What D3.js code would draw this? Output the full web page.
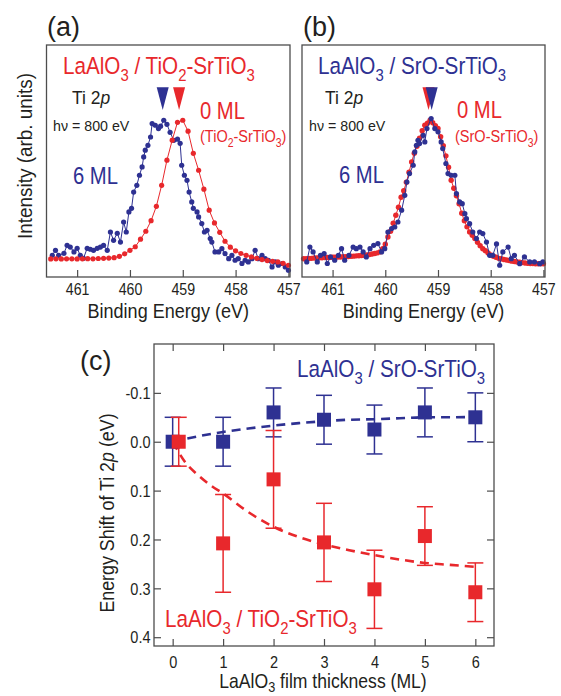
<!DOCTYPE html>
<html>
<head>
<meta charset="utf-8">
<script src="https://cdn.jsdelivr.net/npm/d3@7"></script>
<style>
  body { margin: 0; background: #fff; }
  svg { display: block; font-family: "Liberation Sans", Arial, sans-serif; }
</style>
</head>
<body>
<svg id="fig" width="561" height="696"></svg>
<script>
// ---- data: Ti 2p spectra, panel (a) LaAlO3 / TiO2-SrTiO3
var redA_E = [461.5,461.4,461.3,461.2,461.1,461.0,460.9,460.8,460.7,460.6,460.5,460.4,460.3,460.2,460.1,460.0,
  459.9,459.8,459.7,459.6,459.5,459.4,459.3,459.2,459.1,459.0,458.9,458.8,458.7,458.6,458.5,458.4,458.3,458.2,
  458.1,458.0,457.9,457.8,457.7,457.6,457.5,457.4,457.3,457.2,457.1,457.0];
var redA_I = [0.115,0.116,0.115,0.116,0.116,0.115,0.116,0.117,0.116,0.118,0.119,0.121,0.123,0.132,0.148,0.170,
  0.193,0.241,0.292,0.359,0.451,0.585,0.745,0.873,0.987,1.000,0.930,0.789,0.681,0.560,0.426,0.345,0.285,0.228,
  0.190,0.167,0.150,0.138,0.128,0.119,0.111,0.105,0.100,0.096,0.087,0.075];

var blueA_E = [461.47,461.41,461.35,461.25,461.19,461.13,461.06,461.00,460.94,460.88,460.81,460.75,460.69,460.62,
  460.56,460.50,460.43,460.37,460.31,460.24,460.18,460.12,460.07,460.02,459.97,459.93,459.87,459.82,459.77,459.74,
  459.71,459.66,459.61,459.58,459.52,459.46,459.42,459.36,459.30,459.24,459.17,459.10,459.05,459.02,458.97,458.92,
  458.88,458.83,458.80,458.73,458.70,458.64,458.59,458.54,458.48,458.45,458.39,458.32,458.26,458.20,458.13,458.07,
  458.01,457.95,457.88,457.82,457.76,457.69,457.63,457.57,457.50,457.44,457.38,457.31,457.25,457.19,457.12,457.06,457.00];
var blueA_I = [0.138,0.170,0.138,0.151,0.202,0.191,0.160,0.183,0.138,0.119,0.183,0.177,0.170,0.183,
  0.191,0.202,0.170,0.287,0.234,0.279,0.223,0.351,0.287,0.415,0.438,0.542,0.585,0.649,0.702,0.766,
  0.809,0.840,0.893,0.979,0.968,0.947,0.962,1.000,0.974,0.923,0.872,0.879,0.853,0.713,0.649,0.617,
  0.542,0.479,0.438,0.415,0.383,0.341,0.287,0.298,0.245,0.223,0.160,0.160,0.181,0.149,0.117,0.138,
  0.107,0.117,0.086,0.107,0.096,0.117,0.170,0.117,0.138,0.117,0.107,0.064,0.096,0.075,0.086,0.064,0.043];

// ---- panel (b) LaAlO3 / SrO-SrTiO3
var redB_E = [461.55,461.50,461.45,461.40,461.35,461.30,461.25,461.20,461.15,461.10,461.05,461.00,460.95,460.90,
  460.85,460.80,460.75,460.70,460.65,460.60,460.55,460.50,460.45,460.40,460.35,460.30,460.25,460.20,460.15,460.10,
  460.05,460.00,459.95,459.90,459.85,459.80,459.75,459.70,459.65,459.60,459.55,459.50,459.45,459.40,459.35,459.30,
  459.25,459.20,459.15,459.10,459.05,459.00,458.95,458.90,458.85,458.80,458.75,458.70,458.65,458.60,458.55,458.50,
  458.45,458.40,458.35,458.30,458.25,458.20,458.15,458.10,458.05,458.00,457.95,457.90,457.85,457.80,457.75,457.70,
  457.65,457.60,457.55,457.50,457.45,457.40,457.35,457.30,457.25,457.20,457.15,457.10,457.05,457.00];
var redB_I = [0.116,0.117,0.118,0.119,0.121,0.122,0.123,0.123,0.124,0.124,0.125,0.126,0.126,0.127,
  0.128,0.129,0.130,0.131,0.132,0.133,0.135,0.136,0.137,0.138,0.140,0.143,0.147,0.150,0.154,0.160,
  0.180,0.209,0.255,0.292,0.343,0.394,0.445,0.509,0.550,0.604,0.668,0.734,0.789,0.834,0.885,0.933,
  0.968,0.981,1.000,0.984,0.965,0.947,0.895,0.837,0.773,0.700,0.617,0.566,0.518,0.467,0.407,0.359,
  0.320,0.287,0.266,0.245,0.221,0.199,0.180,0.167,0.153,0.140,0.132,0.126,0.119,0.116,0.112,0.108,
  0.105,0.101,0.099,0.096,0.094,0.092,0.089,0.087,0.086,0.086,0.085,0.085,0.084,0.084];

var blueB_E = [461.49,461.43,461.37,461.29,461.23,461.16,461.10,461.04,460.96,460.89,460.83,460.77,460.69,460.61,
  460.55,460.48,460.42,460.36,460.29,460.22,460.14,460.07,460.01,459.95,459.88,459.82,459.76,459.69,459.63,459.59,
  459.54,459.47,459.44,459.41,459.38,459.35,459.28,459.25,459.21,459.13,459.06,459.00,458.94,458.91,458.85,458.81,
  458.75,458.68,458.65,458.59,458.54,458.49,458.46,458.40,458.34,458.27,458.21,458.15,458.08,458.02,457.96,457.89,
  457.83,457.77,457.67,457.61,457.55,457.45,457.36,457.26,457.17,457.07,457.01];
var blueB_I = [0.096,0.191,0.160,0.096,0.138,0.149,0.086,0.128,0.107,0.138,0.181,0.107,0.138,0.191,
  0.181,0.191,0.160,0.128,0.181,0.202,0.213,0.160,0.181,0.287,0.309,0.319,0.351,0.426,0.521,0.606,
  0.660,0.713,0.798,0.840,0.872,0.851,0.904,0.862,0.947,1.011,0.947,0.926,0.862,0.819,0.724,0.660,
  0.649,0.649,0.532,0.479,0.468,0.404,0.372,0.340,0.287,0.245,0.287,0.277,0.223,0.138,0.138,0.211,
  0.075,0.160,0.191,0.117,0.138,0.085,0.128,0.096,0.096,0.085,0.096];

// peak position markers (binding energy), [red, blue]
var markA_E = [459.07, 459.38];
var markB_E = [459.18, 459.12];
var markTop = 1.21, markTip = 1.065;   // in intensity units

var energyTicks = [461, 460, 459, 458, 457];

// ---- panel (c): energy shift vs LaAlO3 thickness
var thickTicks = [0, 1, 2, 3, 4, 5, 6];
var shiftTicks = [-0.1, 0.0, 0.1, 0.2, 0.3, 0.4];

var sroX   = [0, 1, 2, 3, 4, 5, 6];
var sroVal = [0.0, 0.0, -0.06, -0.045, -0.025, -0.06, -0.05];
var sroErr = [0.05, 0.05, 0.05, 0.05, 0.05, 0.05, 0.05];

var tioX   = [0.12, 1, 2, 3, 4, 5, 6];
var tioVal = [0.0, 0.208, 0.077, 0.206, 0.302, 0.193, 0.308];
var tioErr = [0.05, 0.10, 0.10, 0.08, 0.08, 0.06, 0.06];

// dashed guide curves
var sroFitX = [0, 0.5, 1, 1.5, 2, 2.5, 3, 3.5, 4, 4.5, 5, 5.5, 6];
var sroFitY = [0, -0.011, -0.02, -0.027, -0.033, -0.038, -0.042, -0.045, -0.046, -0.048, -0.05, -0.05, -0.051];
var tioFitX = [0, 0.25, 0.5, 0.75, 1, 1.5, 2, 2.5, 3, 3.5, 4, 4.5, 5, 5.5, 6];
var tioFitY = [0, 0.042, 0.068, 0.089, 0.106, 0.144, 0.174, 0.195, 0.21, 0.222, 0.232, 0.241, 0.248, 0.252, 0.256];

var RED = '#e8282c', BLUE = '#2e3192', INK = '#231f20', FRAME = '#4d4d4d';

var svg = d3.select('#fig');
svg.append('rect').attr('width', 561).attr('height', 696).attr('fill', '#fff');

// text with subscripts / italics, slightly condensed like the original lettering
function label(parent, parts, x, y, o) {
  var tr = 'translate(' + x + ',' + y + ')' + (o.rot ? ' rotate(-90)' : '') + ' scale(' + (o.sx || 0.88) + ',1)';
  var t = parent.append('text')
      .attr('transform', tr)
      .attr('font-size', o.size)
      .attr('fill', o.color || INK)
      .attr('text-anchor', o.anchor || 'start');
  var shift = 0;
  parts.forEach(function(p) {
    if (typeof p === 'string') p = {t: p};
    var ts = t.append('tspan').text(p.t);
    var target = p.sub ? o.size * (o.subShift || 0.3) : 0;
    if (target !== shift) ts.attr('dy', target - shift);
    shift = target;
    if (p.sub) ts.attr('font-size', o.size * 0.72);
    if (p.it) ts.attr('font-style', 'italic');
  });
  return t;
}

var tioParts = ['LaAlO', {t: '3', sub: true}, ' / TiO', {t: '2', sub: true}, '-SrTiO', {t: '3', sub: true}];
var sroParts = ['LaAlO', {t: '3', sub: true}, ' / SrO-SrTiO', {t: '3', sub: true}];

// ---------------- spectra panels ----------------
function spectrumPanel(left, right, red, blue, marks, blueOnTop) {
  var top = 45, bottom = 277;
  var x = d3.scaleLinear().domain([461.58, 456.97]).range([left, right]);
  var y = d3.scaleLinear().domain([0, 1.48]).range([bottom, top]);
  var g = svg.append('g');

  var ax = g.append('g')
      .attr('transform', 'translate(0,' + bottom + ')')
      .call(d3.axisBottom(x).tickValues(energyTicks).tickSizeInner(-7).tickSizeOuter(0).tickFormat(d3.format('d')));
  ax.select('.domain').remove();
  ax.selectAll('line').attr('stroke', FRAME).attr('stroke-width', 1.2);
  ax.selectAll('text')
      .attr('y', 18).attr('dy', null)
      .attr('font-size', 16.5).attr('fill', INK)
      .attr('font-family', '"Liberation Sans", Arial, sans-serif')
      .attr('transform', 'scale(0.86,1)');

  var line = d3.line().x(function(d) { return x(d[0]); }).y(function(d) { return y(d[1]); });

  function series(data, color, r) {
    g.append('path').datum(data)
        .attr('d', line).attr('fill', 'none')
        .attr('stroke', color).attr('stroke-width', 1);
    g.append('g').selectAll('circle').data(data).enter().append('circle')
        .attr('cx', function(d) { return x(d[0]); })
        .attr('cy', function(d) { return y(d[1]); })
        .attr('r', r).attr('fill', color);
  }
  if (blueOnTop) { series(red, RED, 2.7); series(blue, BLUE, 2.6); }
  else { series(blue, BLUE, 2.6); series(red, RED, 2.6); }

  // peak markers
  g.selectAll('path.mark').data([[marks[0], RED], [marks[1], BLUE]]).enter().append('path')
      .attr('class', 'mark')
      .attr('d', function(d) {
        var cx = x(d[0]);
        return 'M' + (cx - 6) + ',' + y(markTop) + 'L' + (cx + 6) + ',' + y(markTop) + 'L' + cx + ',' + y(markTip) + 'Z';
      })
      .attr('fill', function(d) { return d[1]; });

  g.append('rect')
      .attr('x', left).attr('y', top)
      .attr('width', right - left).attr('height', bottom - top)
      .attr('fill', 'none').attr('stroke', FRAME).attr('stroke-width', 1.3);

  label(g, ['Binding Energy (eV)'], (left + right) / 2, 318, {size: 21, sx: 0.86, anchor: 'middle'});
  return g;
}

var gA = spectrumPanel(46.5, 290, d3.zip(redA_E, redA_I), d3.zip(blueA_E, blueA_I), markA_E, false);
var gB = spectrumPanel(302, 545, d3.zip(redB_E, redB_I), d3.zip(blueB_E, blueB_I), markB_E, true);

label(svg, ['(a)'], 47, 36, {size: 27, sx: 1});
label(gA, tioParts, 63, 74, {size: 23.5, color: RED});
label(gA, ['Ti 2', {t: 'p', it: true}], 72, 104, {size: 19, sx: 0.92});
label(gA, ['h\u03bd = 800 eV'], 53, 131, {size: 15, sx: 0.95});
label(gA, ['6 ML'], 73, 184, {size: 23, color: BLUE});
label(gA, ['0 ML'], 200, 119, {size: 23, color: RED});
label(gA, ['(TiO', {t: '2', sub: true}, '-SrTiO', {t: '3', sub: true}, ')'], 200, 142, {size: 16.5, color: RED});

label(svg, ['(b)'], 303, 36, {size: 27, sx: 1});
label(gB, sroParts, 318, 74, {size: 23.5, color: BLUE});
label(gB, ['Ti 2', {t: 'p', it: true}], 325, 104, {size: 19, sx: 0.92});
label(gB, ['h\u03bd = 800 eV'], 309, 131, {size: 15, sx: 0.95});
label(gB, ['6 ML'], 339, 183, {size: 23, color: BLUE});
label(gB, ['0 ML'], 457, 118, {size: 23, color: RED});
label(gB, ['(SrO-SrTiO', {t: '3', sub: true}, ')'], 455, 142, {size: 16.5, color: RED});

label(svg, ['Intensity (arb. units)'], 32, 156, {size: 21, sx: 0.9, anchor: 'middle', rot: true});

// ---------------- panel (c) ----------------
(function() {
  var left = 154, right = 494, top = 344, bottom = 646;
  var x = d3.scaleLinear().domain([-0.37, 6.37]).range([left, right]);
  var y = d3.scaleLinear().domain([-0.2, 0.418]).range([top, bottom]);
  var g = svg.append('g');
  var f1 = d3.format('.1f');

  function ticks(axis, tr, labels) {
    var a = g.append('g').attr('transform', tr).call(axis.tickSizeInner(-7).tickSizeOuter(0));
    a.select('.domain').remove();
    a.selectAll('line').attr('stroke', FRAME).attr('stroke-width', 1.2);
    if (!labels) a.selectAll('text').remove();
    return a;
  }
  var xb = ticks(d3.axisBottom(x).tickValues(thickTicks).tickFormat(d3.format('d')), 'translate(0,' + bottom + ')', true);
  xb.selectAll('text').attr('y', 22).attr('dy', null);
  ticks(d3.axisTop(x).tickValues(thickTicks), 'translate(0,' + top + ')', false);
  var yl = ticks(d3.axisLeft(y).tickValues(shiftTicks)
      .tickFormat(function(d) { return f1(d).replace('\u2212', '-'); }), 'translate(' + left + ',0)', true);
  yl.selectAll('text').attr('x', -4).attr('dy', '0.35em');
  ticks(d3.axisRight(y).tickValues(shiftTicks), 'translate(' + right + ',0)', false);
  g.selectAll('.tick text')
      .attr('font-size', 16.5).attr('fill', INK)
      .attr('font-family', '"Liberation Sans", Arial, sans-serif')
      .attr('transform', 'scale(0.88,1)');

  var fitLine = d3.line().curve(d3.curveMonotoneX)
      .x(function(d) { return x(d[0]); }).y(function(d) { return y(d[1]); });
  [[d3.zip(sroFitX, sroFitY), BLUE], [d3.zip(tioFitX, tioFitY), RED]].forEach(function(s) {
    g.append('path').datum(s[0]).attr('d', fitLine)
        .attr('fill', 'none').attr('stroke', s[1])
        .attr('stroke-width', 2.6).attr('stroke-dasharray', '9,6');
  });

  function points(xs, vs, es, color) {
    var data = xs.map(function(d, i) { return {x: d, v: vs[i], e: es[i]}; });
    var pg = g.append('g').selectAll('g').data(data).enter().append('g')
        .attr('stroke', color).attr('stroke-width', 1.5);
    pg.append('line')
        .attr('x1', function(d) { return x(d.x); }).attr('x2', function(d) { return x(d.x); })
        .attr('y1', function(d) { return y(d.v - d.e); }).attr('y2', function(d) { return y(d.v + d.e); });
    [-1, 1].forEach(function(s) {
      pg.append('line')
          .attr('x1', function(d) { return x(d.x) - 8; }).attr('x2', function(d) { return x(d.x) + 8; })
          .attr('y1', function(d) { return y(d.v + s * d.e); }).attr('y2', function(d) { return y(d.v + s * d.e); });
    });
    pg.append('rect')
        .attr('x', function(d) { return x(d.x) - 7; }).attr('y', function(d) { return y(d.v) - 7; })
        .attr('width', 14).attr('height', 14)
        .attr('fill', color).attr('stroke', 'none');
  }
  points(sroX, sroVal, sroErr, BLUE);
  points(tioX, tioVal, tioErr, RED);

  g.append('rect')
      .attr('x', left).attr('y', top)
      .attr('width', right - left).attr('height', bottom - top)
      .attr('fill', 'none').attr('stroke', FRAME).attr('stroke-width', 1.3);

  label(svg, ['(c)'], 80, 370, {size: 27, sx: 1});
  label(g, sroParts, 297, 377, {size: 23.5, color: BLUE});
  label(g, tioParts, 165, 627, {size: 23.5, color: RED});
  label(g, ['Energy Shift of Ti 2', {t: 'p', it: true}, ' (eV)'], 114, 513, {size: 21, sx: 0.85, anchor: 'middle', rot: true});
  label(g, ['LaAlO', {t: '3', sub: true}, ' film thickness (ML)'], 323, 688, {size: 20, sx: 0.88, anchor: 'middle', subShift: 0.2});
})();
</script>
</body>
</html>
